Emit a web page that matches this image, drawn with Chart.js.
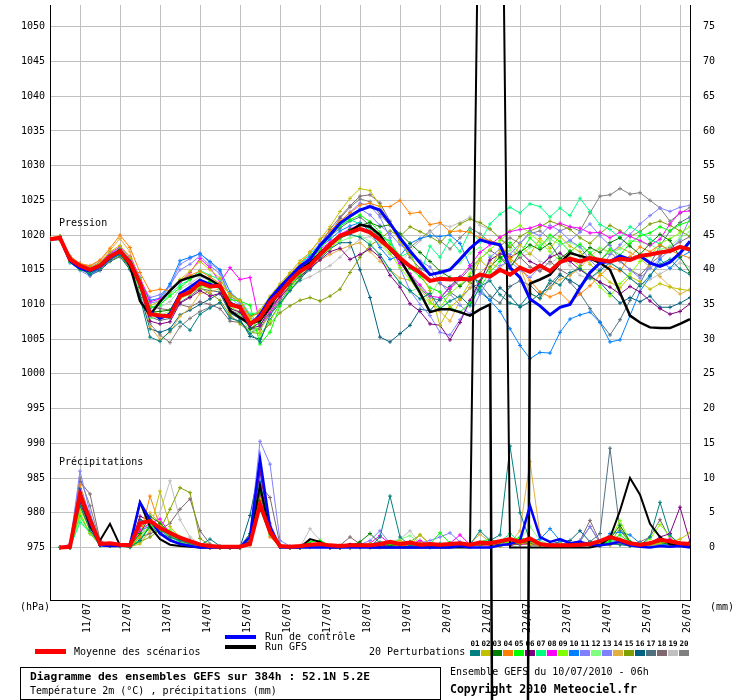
<!DOCTYPE html>
<html>
<head>
<meta charset="utf-8">
<title>Diagramme des ensembles GEFS</title>
<script src="https://cdn.jsdelivr.net/npm/chart.js@4.4.1/dist/chart.umd.min.js"></script>
<style>
  body { margin: 0; background: #fff; }
  canvas { display: block; }
</style>
</head>
<body>
<canvas id="chart" width="740" height="700"></canvas>
<script>
// echeances (heures depuis le 10/07/2010 06h)
const hours = [0,6,12,18,24,30,36,42,48,54,60,66,72,78,84,90,96,102,108,114,120,126,132,138,144,150,156,162,168,174,180,186,192,198,204,210,216,222,228,234,240,246,252,258,264,270,276,282,288,294,300,306,312,318,324,330,336,342,348,354,360,366,372,378,384];
const dayTicks = [18,42,66,90,114,138,162,186,210,234,258,282,306,330,354,378];
const dayLabels = ["11/07","12/07","13/07","14/07","15/07","16/07","17/07","18/07","19/07","20/07","21/07","22/07","23/07","24/07","25/07","26/07"];
const pressureTicks = [975,980,985,990,995,1000,1005,1010,1015,1020,1025,1030,1035,1040,1045,1050];
const rainTicks = [0,5,10,15,20,25,30,35,40,45,50,55,60,65,70,75];

// pression (hPa)
const meanPressure = [1019.4,1019.6,1016.5,1015.6,1015.0,1015.6,1016.9,1017.7,1016.0,1013.1,1008.6,1008.4,1008.3,1011.2,1011.8,1013.1,1012.6,1012.7,1010.0,1009.6,1007.2,1008.1,1010.3,1011.7,1013.4,1014.8,1015.6,1017.2,1018.6,1019.9,1020.4,1020.9,1020.4,1019.3,1018.1,1016.7,1015.5,1014.6,1013.4,1013.7,1013.6,1013.7,1013.6,1014.3,1014.0,1015.0,1014.3,1015.3,1014.7,1015.6,1014.8,1016.1,1016.6,1016.2,1016.7,1016.4,1016.2,1016.6,1016.4,1017.0,1017.2,1017.5,1017.7,1018.3,1017.9];
const controlPressure = [1019.4,1019.6,1016.3,1015.2,1014.8,1015.5,1016.8,1017.6,1016.2,1013.0,1009.0,1008.0,1008.6,1011.5,1012.5,1013.5,1012.9,1012.5,1010.2,1009.5,1007.0,1008.5,1010.8,1012.5,1014.0,1015.5,1016.5,1018.5,1020.0,1021.7,1022.7,1023.6,1024.1,1023.6,1021.7,1019.6,1017.7,1016.0,1014.3,1014.6,1015.0,1016.5,1018.1,1019.3,1018.9,1018.6,1015.3,1013.9,1010.8,1009.8,1008.5,1009.6,1010.0,1012.4,1014.6,1016.0,1016.2,1017.0,1016.5,1017.0,1016.0,1015.5,1016.1,1017.4,1019.1];
const gfsPressure = [1019.4,1019.6,1016.4,1015.3,1014.9,1015.6,1016.9,1017.8,1015.6,1010.5,1008.5,1010.4,1012.0,1013.4,1013.9,1014.3,1013.6,1012.7,1009.1,1008.1,1007.2,1007.7,1009.6,1012.2,1013.8,1015.0,1016.0,1017.4,1018.7,1019.8,1020.5,1021.5,1021.2,1020.0,1017.9,1016.5,1014.1,1011.7,1008.9,1009.3,1009.3,1008.9,1008.4,1009.3,1010.0,725,700,715,1013.0,1013.6,1014.3,1016.0,1017.4,1017.0,1016.6,1016.0,1015.0,1011.7,1008.4,1007.4,1006.7,1006.6,1006.6,1007.2,1007.9];

const p01 = [1019.2,1019.8,1016.8,1015.2,1014.3,1015.4,1016.6,1017.2,1015.3,1011.0,1005.3,1004.7,1006.2,1007.5,1006.3,1008.6,1009.5,1010.3,1008.0,1007.6,1005.8,1004.6,1008.5,1010.2,1012.0,1013.5,1015.6,1016.8,1018.3,1019.6,1020.1,1019.7,1018.6,1017.2,1015.0,1013.1,1012.0,1010.8,1011.6,1009.4,1010.5,1011.2,1009.8,1012.6,1013.4,1011.4,1010.2,1009.8,1011.6,1010.9,1013.5,1012.8,1014.6,1015.2,1013.8,1014.9,1016.0,1015.1,1013.8,1012.6,1014.2,1015.8,1016.5,1015.1,1014.3];
const p02 = [1019.4,1019.3,1016.2,1015.8,1015.3,1016.0,1017.6,1018.5,1016.8,1013.5,1009.8,1010.5,1011.8,1013.6,1014.8,1016.2,1015.0,1013.8,1011.2,1010.5,1008.0,1009.2,1011.2,1013.0,1014.6,1016.3,1017.5,1019.4,1021.2,1023.4,1025.3,1026.7,1026.4,1024.2,1021.5,1019.0,1017.2,1014.5,1012.0,1007.0,1009.6,1010.8,1013.2,1016.4,1015.1,1017.8,1016.2,1018.6,1017.2,1019.5,1018.1,1019.8,1018.4,1017.6,1015.8,1014.5,1013.2,1012.4,1014.0,1013.3,1012.2,1013.0,1012.5,1012.2,1012.0];
const p03 = [1019.5,1019.5,1016.6,1015.7,1015.2,1015.8,1017.0,1017.9,1016.3,1013.4,1008.9,1009.0,1009.2,1011.6,1012.2,1012.8,1013.0,1012.4,1010.3,1009.8,1006.5,1007.4,1009.8,1011.6,1013.0,1014.7,1015.8,1017.4,1018.7,1019.8,1020.8,1021.4,1021.8,1021.2,1021.5,1020.2,1018.8,1017.5,1016.2,1014.8,1013.9,1012.6,1014.0,1013.2,1015.4,1016.8,1015.2,1017.5,1018.6,1017.9,1018.8,1016.6,1017.7,1016.9,1018.2,1017.5,1018.9,1019.6,1018.4,1017.2,1018.8,1020.1,1019.2,1016.8,1014.6];
const p04 = [1019.6,1019.9,1017.0,1015.9,1015.6,1016.4,1018.1,1020.0,1018.2,1014.6,1011.9,1012.2,1012.0,1013.5,1014.2,1014.8,1014.0,1013.0,1011.5,1010.6,1008.2,1008.8,1010.9,1012.8,1014.4,1015.9,1017.6,1019.3,1020.6,1022.0,1023.2,1024.3,1024.6,1024.1,1024.1,1025.0,1023.1,1023.3,1021.5,1021.8,1020.5,1020.6,1020.4,1019.6,1019.2,1018.7,1016.7,1015.4,1013.4,1011.8,1011.1,1011.7,1010.3,1011.5,1012.7,1014.2,1015.5,1014.8,1016.9,1018.3,1017.6,1018.6,1017.8,1017.2,1016.7];
const p05 = [1019.3,1019.4,1016.1,1015.0,1014.6,1015.3,1016.6,1017.4,1015.5,1012.6,1009.4,1010.0,1011.2,1012.4,1013.6,1014.5,1013.3,1012.8,1010.7,1010.5,1009.9,1004.3,1006.0,1009.8,1012.5,1014.3,1016.0,1018.0,1019.8,1021.3,1022.2,1022.9,1021.9,1020.4,1018.7,1017.0,1015.2,1014.0,1012.4,1011.8,1009.6,1008.9,1010.2,1012.4,1014.7,1016.2,1018.9,1017.3,1019.6,1018.2,1020.0,1019.1,1017.6,1018.7,1017.4,1016.2,1018.0,1017.1,1018.8,1019.9,1020.3,1021.2,1020.6,1021.5,1022.0];
const p06 = [1019.4,1019.5,1016.4,1015.4,1014.6,1015.2,1016.5,1017.3,1015.6,1012.5,1007.6,1007.2,1007.5,1010.2,1011.0,1012.0,1011.2,1011.6,1009.4,1008.9,1006.6,1006.9,1009.5,1011.1,1012.6,1014.1,1015.2,1016.4,1017.6,1018.1,1016.5,1017.2,1018.0,1016.8,1014.2,1012.5,1010.1,1009.0,1007.2,1007.0,1004.9,1007.4,1010.6,1013.4,1016.4,1017.3,1016.8,1017.6,1016.2,1015.5,1016.8,1017.4,1016.2,1015.0,1014.1,1013.2,1012.5,1011.5,1012.6,1011.8,1010.5,1009.4,1008.6,1009.0,1010.1];
const p07 = [1019.3,1019.6,1016.7,1015.6,1015.3,1015.9,1017.1,1018.0,1016.5,1013.8,1009.6,1009.9,1011.5,1012.8,1013.6,1014.9,1014.2,1013.6,1011.4,1010.7,1008.6,1008.9,1010.9,1012.6,1014.4,1015.8,1017.3,1018.5,1020.0,1021.4,1022.2,1021.6,1020.9,1019.7,1019.2,1016.8,1017.6,1014.2,1018.4,1016.8,1019.3,1017.6,1020.7,1019.0,1021.6,1023.0,1024.0,1023.2,1024.5,1024.1,1022.6,1023.9,1022.8,1025.3,1023.4,1021.5,1020.8,1019.6,1021.2,1020.4,1019.4,1018.7,1017.6,1018.3,1017.9];
const p08 = [1019.5,1019.7,1016.8,1015.9,1015.3,1016.0,1017.4,1018.3,1016.9,1013.9,1010.4,1010.8,1011.8,1013.2,1014.6,1016.6,1015.3,1013.2,1015.3,1013.6,1013.9,1007.1,1008.8,1011.2,1013.3,1015.1,1016.6,1017.9,1019.0,1020.1,1020.9,1021.5,1021.0,1019.6,1018.0,1015.9,1014.4,1012.8,1011.2,1011.0,1012.4,1013.9,1015.6,1017.5,1018.6,1019.7,1020.5,1020.8,1021.0,1021.5,1021.0,1021.7,1021.2,1021.0,1020.3,1020.4,1019.6,1020.4,1019.8,1019.2,1018.5,1019.4,1021.6,1023.3,1023.5];
const p09 = [1019.3,1019.5,1016.3,1015.3,1014.9,1015.5,1016.8,1017.5,1015.8,1012.9,1009.1,1008.6,1008.5,1010.8,1011.5,1012.6,1012.3,1012.8,1009.7,1008.9,1007.8,1005.6,1007.6,1010.0,1012.2,1013.9,1015.5,1016.9,1018.0,1019.4,1020.4,1020.9,1020.2,1019.0,1017.4,1015.3,1013.6,1011.5,1010.2,1009.5,1011.6,1012.8,1014.5,1016.6,1017.9,1019.2,1020.6,1021.4,1020.2,1019.0,1017.6,1016.3,1016.8,1015.4,1014.0,1012.5,1011.2,1013.0,1014.4,1016.2,1017.0,1018.8,1019.5,1020.3,1021.2];
const p10 = [1019.4,1019.4,1016.0,1015.1,1014.4,1015.1,1016.4,1017.2,1015.9,1013.2,1010.6,1010.9,1013.0,1016.3,1016.8,1017.3,1016.2,1015.0,1011.8,1010.5,1008.4,1008.8,1010.5,1012.4,1014.0,1015.4,1017.0,1018.2,1019.4,1020.6,1021.3,1021.8,1020.5,1018.2,1016.5,1017.0,1018.8,1019.5,1019.9,1019.8,1020.0,1018.8,1015.6,1012.2,1010.6,1009.0,1006.5,1004.1,1002.2,1003.1,1003.0,1006.0,1007.9,1008.5,1008.9,1007.4,1004.6,1004.9,1008.4,1011.9,1014.0,1016.5,1015.2,1016.8,1017.6];
const p11 = [1019.2,1019.3,1016.1,1014.9,1014.1,1015.2,1016.6,1017.5,1016.1,1013.4,1011.0,1011.4,1012.6,1015.8,1016.6,1017.4,1016.0,1014.8,1011.0,1009.8,1007.5,1008.2,1010.4,1012.2,1014.1,1015.6,1017.3,1018.8,1020.3,1021.9,1023.3,1024.6,1024.2,1022.6,1019.6,1015.3,1012.0,1010.0,1008.4,1006.0,1005.6,1007.8,1010.4,1013.0,1016.8,1018.0,1017.2,1018.8,1020.5,1019.9,1021.4,1020.6,1019.2,1018.3,1016.4,1015.0,1017.2,1018.6,1020.1,1021.6,1022.8,1023.9,1023.4,1024.0,1024.3];
const p12 = [1019.5,1019.6,1016.5,1015.5,1014.8,1015.5,1016.7,1017.3,1015.4,1012.0,1008.0,1008.2,1009.2,1011.0,1012.2,1013.6,1013.0,1012.1,1009.6,1008.6,1006.0,1006.8,1009.4,1011.4,1013.0,1014.6,1016.1,1017.5,1018.4,1019.1,1019.6,1020.0,1019.0,1016.8,1015.0,1013.2,1011.8,1012.6,1011.0,1013.8,1015.2,1016.0,1017.4,1018.2,1017.0,1016.5,1017.8,1017.1,1018.2,1018.6,1019.4,1018.7,1019.0,1018.2,1017.5,1018.2,1017.4,1018.0,1019.2,1019.0,1018.6,1017.9,1018.4,1019.6,1020.5];
const p13 = [1019.4,1019.5,1016.4,1015.6,1015.3,1016.1,1017.3,1018.0,1016.4,1013.6,1010.2,1010.5,1012.8,1015.0,1015.8,1017.0,1015.6,1014.4,1011.2,1010.2,1008.0,1007.7,1009.9,1011.9,1013.4,1015.2,1016.9,1018.6,1019.8,1021.6,1022.9,1023.8,1022.9,1021.4,1020.2,1018.6,1017.6,1016.3,1015.4,1013.2,1011.5,1009.9,1008.6,1011.5,1014.0,1015.6,1016.2,1015.0,1013.9,1015.4,1017.0,1018.6,1019.2,1020.4,1021.6,1019.9,1018.5,1016.4,1015.0,1013.8,1015.2,1016.6,1017.8,1019.4,1022.4];
const p14 = [1019.5,1019.8,1016.9,1015.8,1015.5,1016.3,1017.8,1019.5,1017.6,1013.0,1006.8,1005.0,1006.0,1008.3,1009.5,1011.6,1011.8,1012.3,1009.0,1008.2,1007.0,1006.2,1009.0,1011.0,1012.8,1014.2,1015.6,1016.4,1017.2,1017.9,1018.5,1018.9,1017.6,1016.2,1015.0,1013.8,1013.5,1012.2,1010.5,1009.0,1007.6,1010.6,1012.4,1014.5,1016.0,1015.2,1016.6,1015.4,1011.6,1010.8,1012.4,1013.6,1014.2,1015.2,1016.9,1018.1,1017.6,1018.2,1017.5,1016.6,1015.4,1014.0,1012.6,1011.5,1012.2];
const p15 = [1019.3,1019.4,1016.2,1015.1,1014.5,1015.1,1016.3,1017.0,1015.2,1012.0,1008.8,1008.0,1008.8,1011.0,1011.6,1012.4,1011.6,1010.6,1008.5,1007.2,1006.0,1005.8,1007.2,1008.8,1009.8,1010.6,1011.0,1010.5,1011.2,1012.2,1014.6,1016.8,1018.5,1019.4,1020.6,1019.8,1021.2,1020.5,1019.8,1018.9,1020.4,1021.6,1022.3,1021.8,1020.9,1019.5,1018.2,1019.8,1020.6,1021.2,1022.0,1021.5,1020.8,1019.6,1018.8,1020.2,1021.4,1020.6,1019.8,1020.5,1021.6,1022.0,1021.4,1020.6,1019.8];
const p16 = [1019.3,1019.6,1016.6,1015.4,1014.2,1014.9,1016.2,1016.9,1015.0,1011.4,1006.5,1006.0,1006.5,1008.5,1009.2,1010.0,1010.8,1011.6,1008.8,1007.9,1005.4,1005.0,1007.8,1010.0,1012.0,1013.8,1015.0,1016.6,1018.0,1018.9,1018.9,1015.0,1011.0,1005.3,1004.6,1005.8,1007.0,1009.3,1009.1,1010.8,1012.6,1014.0,1013.2,1011.8,1010.6,1012.4,1011.2,1009.6,1010.4,1011.6,1012.4,1014.2,1013.5,1012.6,1014.0,1013.2,1011.6,1010.2,1011.0,1010.4,1011.2,1009.6,1009.6,1010.2,1011.0];
const p17 = [1019.4,1019.4,1016.3,1015.3,1014.7,1015.4,1016.7,1017.6,1016.1,1012.8,1008.2,1007.7,1008.0,1010.3,1011.2,1012.3,1012.0,1011.8,1009.2,1008.5,1006.6,1006.4,1009.2,1011.2,1013.4,1015.0,1016.4,1018.2,1019.8,1021.0,1022.0,1022.6,1021.4,1019.8,1018.2,1016.5,1014.4,1012.3,1011.0,1010.6,1011.8,1010.8,1012.4,1013.0,1011.2,1010.2,1012.6,1013.4,1012.8,1011.4,1013.0,1014.4,1013.2,1011.6,1009.4,1007.5,1005.6,1007.8,1010.6,1013.0,1015.8,1018.4,1020.6,1021.8,1022.6];
const p18 = [1019.5,1019.7,1016.6,1015.5,1015.1,1015.9,1017.2,1018.1,1016.6,1013.6,1009.8,1009.4,1009.2,1010.0,1009.6,1010.4,1010.0,1009.4,1007.6,1007.4,1006.4,1006.6,1008.6,1010.8,1012.8,1014.6,1016.6,1018.6,1020.8,1022.6,1024.2,1025.6,1025.8,1024.6,1022.0,1019.2,1016.8,1015.2,1014.4,1013.0,1012.2,1013.6,1015.2,1016.6,1017.8,1016.9,1015.6,1016.8,1015.4,1014.8,1016.2,1015.0,1014.2,1015.6,1017.2,1016.4,1017.6,1016.2,1015.0,1014.2,1015.8,1017.0,1018.2,1019.0,1019.8];
const p19 = [1019.4,1019.6,1016.5,1015.7,1015.4,1015.9,1017.0,1017.7,1016.0,1012.4,1009.0,1009.6,1010.4,1012.2,1013.0,1014.0,1013.4,1012.5,1010.6,1009.2,1007.8,1007.6,1009.6,1011.2,1012.6,1013.4,1014.0,1014.8,1015.6,1016.8,1018.2,1019.4,1019.8,1018.6,1017.2,1016.0,1017.6,1019.2,1020.4,1021.6,1021.2,1021.8,1022.6,1021.4,1020.8,1019.6,1018.4,1016.8,1017.4,1016.2,1015.8,1017.0,1015.6,1014.2,1013.6,1014.8,1016.2,1015.0,1013.8,1012.8,1013.6,1014.4,1015.2,1016.0,1015.4];
const p20 = [1019.3,1019.5,1016.4,1015.2,1014.6,1015.3,1016.6,1017.4,1015.6,1012.2,1007.2,1005.6,1004.5,1006.8,1008.0,1009.0,1009.6,1010.2,1008.2,1007.5,1006.0,1006.4,1008.6,1010.4,1012.6,1014.4,1016.4,1018.4,1020.2,1022.4,1024.0,1025.2,1024.8,1023.0,1021.4,1019.6,1018.2,1019.4,1020.6,1019.2,1018.0,1019.6,1021.0,1020.2,1019.0,1018.4,1019.6,1018.8,1020.2,1020.6,1019.4,1020.6,1021.2,1020.6,1023.2,1025.6,1025.8,1026.7,1025.9,1026.1,1025.0,1023.9,1022.0,1023.1,1024.0];

// precipitations (mm / 6h)
const meanRain = [null,0,0.1,7.6,4.0,0.5,0.6,0.4,0.3,3.5,3.8,2.8,2.1,1.4,0.9,0.4,0.2,0.1,0.1,0.1,0.5,6.2,2.3,0.2,0.1,0.2,0.4,0.5,0.3,0.2,0.3,0.3,0.3,0.5,0.8,0.5,0.7,0.4,0.5,0.4,0.5,0.6,0.4,0.7,0.6,0.9,1.2,0.8,1.3,0.5,0.3,0.3,0.3,0.4,0.5,0.9,1.5,1.1,0.6,0.4,0.6,1.1,0.9,0.6,0.5];
const controlRain = [null,0,0,8.0,3.5,0.3,0.2,0.2,0.5,6.5,4.0,2.0,1.0,0.5,0.2,0,0,0,0,0,1.5,12.8,3.0,0,0,0,0,0,0,0,0,0,0,0,0,0,0,0,0,0,0,0.2,0,0,0,0.3,0.5,1.0,6.0,1.5,0.8,1.2,0.6,0.8,0.4,0.3,0.5,0.8,0.3,0.1,0,0.2,0.1,0.2,0];
const gfsRain = [null,0,0,7.8,3.0,1.0,3.4,0.3,0.2,6.5,3.0,1.2,0.4,0.2,0.1,0,0,0,0,0,0.8,9.0,2.0,0.1,0,0,1.2,0.8,0,0,0.5,0.2,0,0,0,0,0,0,0,0,0,0,0,111,120,130,0,0,0,0,0,0,0,0,0,0.3,1.4,5.3,10.0,7.6,3.4,1.5,0.5,0.2,0.1];

const r01 = [null,0,0.2,6.0,2.5,0.4,0.3,0.2,0,1.0,3.0,2.0,1.5,1.0,0.5,0.3,1.2,0.2,0,0,2.0,9.0,3.0,0.2,0,0,0.3,0.2,0,0,0.3,0,0,1.5,7.4,1.5,0.3,0.2,0,0.2,0.3,0.2,0.4,2.4,1.0,1.8,14.6,5.0,1.0,0.5,0.3,0.2,0.5,0.4,0.3,0.2,0.6,0.4,0.2,0.3,1.5,6.5,1.8,0.4,0.2];
const r02 = [null,0,0,5.0,2.0,0.5,0.3,0.2,0.1,0.5,2.5,8.1,3.0,1.5,0.6,0.2,0,0,0,0,1.0,7.0,2.0,0,0,0,0.3,0.5,0,0,0,0.2,0.5,0.3,0.6,1.0,0.4,1.8,0.5,0.3,0.2,0.4,0.3,0.6,0.5,0.2,0.8,0.6,0.4,0.3,0.2,0.5,0.3,0.2,0.4,0.5,0.3,0.8,0.5,0.3,0.4,0.6,0.8,1.2,2.1];
const r03 = [null,0,0,7.0,3.0,0.4,0.3,0.3,0.2,2.0,4.5,3.5,2.0,1.2,0.6,0.3,0.2,0,0,0,0.5,8.0,2.5,0.3,0,0,0.4,0.6,0.2,0,0.2,0.8,2.0,0.6,0.3,0.4,0.8,0.3,0.2,0.4,0.6,0.3,0.2,0.5,0.4,0.3,0.6,0.5,1.0,0.4,0.3,0.2,0.3,0.5,0.4,0.6,1.2,3.2,0.8,0.4,0.5,0.7,0.4,0.3,0.2];
const r04 = [null,0,0.3,9.0,4.0,0.6,0.4,0.3,0.1,1.5,7.4,3.0,1.6,1.0,0.4,0.2,0,0,0,0,0.3,6.0,1.5,0.2,0,0,0,0.2,0,0,0,0,0,0,0.2,0.3,0.2,0.4,0.2,0.3,0.5,0.3,0.2,0.4,0.3,0.2,0.4,0.6,0.8,0.3,0.2,0.3,0.6,0.4,0.5,0.3,0.4,0.6,0.3,0.2,0.4,0.3,0.2,0.3,0.4];
const r05 = [null,0,0,4.6,2.0,0.4,0.3,0.2,0.2,1.0,3.2,2.5,1.8,1.0,0.5,0.2,0.1,0,0,0,0.6,8.5,2.0,0.3,0,0,0.8,1.0,0.3,0,0,0.3,0.5,0.6,0.4,0.3,0.6,0.4,0.5,2.1,0.6,0.4,0.3,0.8,1.2,0.6,0.9,1.5,0.8,0.4,0.3,0.4,0.2,0.3,0.5,0.4,0.9,1.8,0.7,0.4,0.5,0.8,0.6,0.4,0.3];
const r06 = [null,0,0,6.5,3.0,0.3,0.2,0.2,0.3,4.5,3.8,2.2,1.2,0.6,0.3,0.1,0,0,0,0,0.8,11.0,2.2,0.2,0,0,0.2,0.3,0,0,0.4,0.6,0.3,0.2,0.4,0.3,0.2,0.5,0.3,0.2,0.4,0.3,0.2,0.3,0.5,0.4,0.3,0.6,0.5,0.3,0.4,0.3,0.2,0.3,0.4,0.3,0.5,0.8,0.4,0.3,0.6,1.5,2.0,5.8,0.8];
const r07 = [null,0,0,3.6,2.2,0.3,0.2,0.2,0.1,1.2,3.0,2.6,1.5,0.8,0.4,0.2,0,0,0,0,0.4,5.5,1.8,0.2,0,0,0.3,0.6,0.2,0,0,0.2,0.3,0.4,0.3,0.5,0.3,0.2,0.4,0.6,0.3,0.2,0.4,0.3,0.6,0.8,2.0,0.8,0.6,0.4,0.3,0.5,0.4,0.3,0.6,0.4,0.8,1.2,0.5,0.3,0.2,0.6,0.8,0.5,0.3];
const r08 = [null,0,0,7.5,3.2,0.4,0.3,0.2,0.2,2.5,3.5,4.1,2.0,1.0,0.5,0.2,0,0,0,0,0.6,7.5,2.5,0.2,0,0,0.2,0.4,0,0,0,0.3,0.6,1.7,0.5,0.3,0.4,1.0,0.3,0.4,0.6,1.8,0.4,0.3,0.2,0.5,0.6,0.4,0.5,0.3,0.2,0.4,0.3,0.2,0.4,0.3,0.6,0.9,0.5,0.3,0.4,0.8,1.2,0.6,0.4];
const r09 = [null,0,0,5.5,2.6,0.3,0.3,0.2,0.2,1.8,3.0,3.2,2.4,1.4,0.6,0.3,0.1,0,0,0,0.5,6.8,2.0,0.2,0,0,0.3,0.4,0.2,0,0,0.2,0.4,0.3,0.2,0.5,0.3,0.8,0.4,0.3,0.2,0.3,0.5,0.4,0.3,0.6,0.8,1.4,0.6,0.4,0.3,0.2,0.4,0.3,0.5,0.4,1.0,3.9,0.8,0.5,1.2,3.3,1.6,0.5,0.3];
const r10 = [null,0,0,8.5,3.5,0.5,0.4,0.3,0.2,3.0,4.0,2.5,1.5,0.8,0.4,0.2,0,0,0,0,1.0,9.5,2.8,0.2,0,0,0.2,0.3,0,0,0,0.2,0.3,0.4,0.2,0.3,0.4,0.3,0.2,0.3,0.4,0.3,0.5,0.4,0.3,0.5,0.8,1.2,0.9,1.2,2.7,1.0,0.6,0.8,0.5,0.4,2.0,2.2,1.8,0.6,0.4,0.5,0.3,0.4,0.3];
const r11 = [null,0,0.5,11.0,5.0,0.6,0.4,0.3,0.2,2.0,3.5,3.0,2.0,1.2,0.6,0.3,0,0,0,0.2,2.0,15.3,12.0,1.0,0.2,0,0.3,0.4,0.2,0,0.2,0.4,1.0,2.4,0.6,0.3,0.4,0.3,0.5,0.4,0.3,0.6,0.5,0.3,0.4,0.2,0.5,0.6,0.4,0.3,0.5,0.4,0.3,1.0,3.0,0.8,0.4,0.6,0.3,0.4,0.5,0.6,0.4,0.3,0.2];
const r12 = [null,0,0,4.0,2.0,0.3,0.2,0.2,0.1,1.5,2.8,2.2,2.6,1.5,0.8,0.3,0.1,0,0,0,0.4,6.5,2.0,0.2,0,0,0.2,0.3,0,0,0,0.2,0.3,0.4,0.6,1.2,1.7,0.6,0.4,0.3,0.5,0.4,0.3,0.6,0.5,0.4,0.8,1.2,3.0,1.0,0.4,0.3,0.2,0.4,0.3,0.5,0.6,0.8,0.4,0.3,0.4,0.5,0.3,0.2,0.3];
const r13 = [null,0,0.3,9.0,4.5,0.5,0.4,0.3,0.2,3.5,4.2,3.0,1.8,1.0,0.5,0.2,0,0,0,0,1.2,10.5,3.5,0.3,0,0,0.2,0.4,0,0,0.2,0.3,0.5,0.8,0.4,0.3,0.2,0.6,1.0,1.5,2.1,0.8,0.4,0.3,0.5,0.4,0.3,0.6,0.4,0.3,0.5,0.6,0.4,0.3,0.5,0.4,0.7,1.0,0.6,0.4,0.3,0.5,0.4,0.3,0.5];
const r14 = [null,0,0.2,8.0,3.8,0.5,0.3,0.2,0.3,2.2,5.0,3.5,2.2,1.4,0.7,0.3,0,0,0,0,0.5,7.2,2.4,0.2,0,0,0.3,0.5,0.2,0,0,0.3,0.4,0.3,0.5,0.4,0.3,0.6,0.4,0.3,0.5,0.4,0.6,1.9,0.8,0.5,0.6,2.4,12.4,1.8,0.6,0.4,0.3,0.5,0.4,0.3,0.6,1.2,0.5,0.4,0.3,0.6,0.4,0.5,0.3];
const r15 = [null,0,0,6.0,2.8,0.4,0.3,0.2,0.1,0.8,1.5,2.5,5.5,8.6,7.9,1.3,0.3,0,0,0,0.6,8.0,2.2,0.2,0,0,0.4,0.5,0.2,0,0,0.3,0.4,0.3,0.5,0.6,0.8,1.8,0.5,0.4,0.3,0.5,0.4,0.3,0.6,0.4,0.3,0.5,0.8,0.4,0.3,0.2,0.4,0.3,0.5,0.4,0.6,2.8,0.6,0.4,0.5,0.8,0.6,0.4,0.3];
const r16 = [null,0,0,7.0,3.5,0.5,0.3,0.2,0.2,4.0,3.5,2.4,1.6,0.9,1.0,0.4,0.2,0,0,0,4.6,12.0,2.6,0.3,0,0,0.3,0.4,0,0,0,0.2,0.3,0.4,0.3,0.5,0.4,0.3,0.2,0.4,0.3,0.6,0.5,0.4,0.3,0.6,0.8,0.5,0.4,0.3,0.5,0.8,1.0,2.4,0.8,0.4,0.6,0.5,0.3,0.4,0.6,0.5,0.4,0.3,0.2];
const r17 = [null,0,0,6.5,3.0,0.4,0.3,0.2,0.2,2.5,3.0,2.5,1.8,1.0,0.6,0.3,0.1,0,0,0,0.8,9.0,2.5,0.2,0,0,0.2,0.3,0,0,0,0.2,0.4,0.3,0.5,0.4,0.3,0.4,0.2,0.3,0.5,0.4,0.3,0.5,0.4,0.3,0.5,0.6,0.4,0.5,0.3,0.4,0.6,0.5,0.8,2.0,14.3,2.4,0.8,0.5,0.4,0.6,0.5,0.4,0.3];
const r18 = [null,0,0,9.5,7.7,1.0,0.4,0.3,0.2,1.5,2.0,2.5,3.5,5.5,7.0,2.4,0.5,0,0,0,1.5,9.0,7.2,0.4,0,0,0.3,0.5,0.2,0.3,1.5,0.5,0.3,0.4,0.3,0.5,0.4,0.3,0.4,0.3,0.5,0.4,0.3,0.4,0.5,0.3,0.4,0.6,0.5,0.4,0.3,0.5,0.6,1.0,3.9,0.8,0.5,0.6,0.4,0.8,1.5,4.0,1.2,0.5,0.3];
const r19 = [null,0,0,6.0,3.0,0.4,0.3,0.2,0.2,1.0,2.0,5.0,9.6,4.0,1.5,0.5,0.2,0,0,0,0.6,7.5,3.0,0.3,0,0,2.7,1.0,0.2,0,0,0.3,0.4,0.6,0.8,1.2,2.4,0.6,0.4,0.3,0.5,0.4,0.3,0.5,0.4,0.6,0.5,0.8,0.6,0.4,0.3,0.5,0.4,0.3,0.6,0.4,0.5,0.8,0.4,0.3,0.4,0.6,0.5,0.3,0.4];
const r20 = [null,0,0.4,10.0,6.0,0.8,0.4,0.3,0.2,1.8,3.0,2.6,1.8,1.2,0.6,0.3,0,0,0,0,1.8,11.0,3.2,0.3,0,0,0.3,0.4,0,0,0,0.2,0.3,0.5,0.4,0.3,0.5,0.4,0.3,0.4,0.3,0.5,0.4,0.3,0.5,0.4,0.6,0.8,0.5,0.4,0.3,0.5,0.4,0.8,3.0,0.6,0.5,0.4,0.6,0.4,0.5,0.8,0.6,0.4,0.3];

const memberPressure = [p01,p02,p03,p04,p05,p06,p07,p08,p09,p10,p11,p12,p13,p14,p15,p16,p17,p18,p19,p20];
const memberRain = [r01,r02,r03,r04,r05,r06,r07,r08,r09,r10,r11,r12,r13,r14,r15,r16,r17,r18,r19,r20];
const memberColors = ["#008080","#c0c000","#008000","#ff8000","#00ff00","#800080","#00ff80","#ff00ff","#80ff00","#0080ff","#8080ff","#80ff80","#8080ff","#e0b040","#80a000","#006080","#507080","#806870","#c0c0c0","#808080"];

const FONT = "'DejaVu Sans Mono', monospace";

function points(values) {
  return hours.map((h, i) => ({ x: h, y: values[i] }));
}

function line(values, color, width, axis, order, marks) {
  return {
    data: points(values),
    yAxisID: axis,
    borderColor: color,
    backgroundColor: color,
    borderWidth: width,
    pointStyle: "cross",
    pointRadius: marks ? 2 : 0,
    pointBorderWidth: 1,
    pointBorderColor: color,
    fill: false,
    tension: 0,
    order: order
  };
}

const datasets = [];
datasets.push(line(meanPressure, "#ff0000", 4, "y", 0, false));
datasets.push(line(controlPressure, "#0000ff", 3, "y", 1, false));
const gfsLine = line(gfsPressure, "#000000", 2.5, "y", 2, false);
gfsLine.clip = false; // la courbe GFS sort du cadre comme sur l'original
datasets.push(gfsLine);
datasets.push(line(meanRain, "#ff0000", 4, "y2", 0, false));
datasets.push(line(controlRain, "#0000ff", 2.5, "y2", 1, false));
datasets.push(line(gfsRain, "#000000", 2, "y2", 2, false));
memberPressure.forEach((p, k) => {
  datasets.push(line(p, memberColors[k], 1, "y", 3, true));
});
memberRain.forEach((r, k) => {
  datasets.push(line(r, memberColors[k], 1, "y2", 3, true));
});

// textes, legende et cartouche
const decor = {
  id: "decor",
  beforeDatasetsDraw(chart) {
    const ctx = chart.ctx;
    ctx.save();
    ctx.textBaseline = "middle";
    ctx.textAlign = "left";
    ctx.fillStyle = "#000";
    ctx.font = "10px " + FONT;
    ctx.fillText("Pression", 59, 223);
    ctx.fillText("Précipitations", 59, 462);
    ctx.fillText("(hPa)", 20, 607);
    ctx.fillText("(mm)", 710, 607);

    ctx.fillStyle = "#ff0000";
    ctx.fillRect(35, 649, 31, 5);
    ctx.fillStyle = "#0000ff";
    ctx.fillRect(225, 635, 31, 4);
    ctx.fillStyle = "#000";
    ctx.fillRect(225, 645, 31, 4);
    ctx.fillText("Moyenne des scénarios", 74, 652);
    ctx.fillText("Run de contrôle", 265, 637);
    ctx.fillText("Run GFS", 265, 647);
    ctx.fillText("20 Perturbations", 369, 652);

    ctx.font = "bold 7.5px " + FONT;
    ctx.textAlign = "center";
    memberColors.forEach((c, k) => {
      const x = 470 + k * 11;
      ctx.fillStyle = "#000";
      ctx.fillText(String(k + 1).padStart(2, "0"), x + 5, 644);
      ctx.fillStyle = c;
      ctx.fillRect(x, 650, 10, 6);
    });

    ctx.textAlign = "left";
    ctx.fillStyle = "#000";
    ctx.strokeStyle = "#000";
    ctx.lineWidth = 1;
    ctx.strokeRect(20.5, 667.5, 420, 32);
    ctx.font = "bold 11.3px " + FONT;
    ctx.fillText("Diagramme des ensembles GEFS sur 384h : 52.1N 5.2E", 30, 677);
    ctx.font = "10px " + FONT;
    ctx.fillText("Température 2m (°C) , précipitations (mm)", 30, 691);
    ctx.fillText("Ensemble GEFS du 10/07/2010 - 06h", 450, 672);
    ctx.font = "bold 11.5px " + FONT;
    ctx.fillText("Copyright 2010 Meteociel.fr", 450, 690);
    ctx.restore();
  }
};

function noPadding(scale) {
  scale.paddingTop = 0;
  scale.paddingBottom = 0;
  scale.paddingLeft = 0;
  scale.paddingRight = 0;
}

new Chart(document.getElementById("chart"), {
  type: "line",
  data: { datasets: datasets },
  options: {
    responsive: false,
    animation: false,
    events: [],
    layout: { padding: 0 },
    plugins: { legend: { display: false }, tooltip: { enabled: false } },
    scales: {
      x: {
        type: "linear",
        min: 0,
        max: 384,
        afterBuildTicks: s => { s.ticks = dayTicks.map(v => ({ value: v })); },
        afterFit: s => { s.height = 100; noPadding(s); },
        grid: { color: "#c0c0c0", drawTicks: false },
        border: { color: "#000" },
        ticks: {
          autoSkip: false,
          minRotation: 90,
          maxRotation: 90,
          labelOffset: 7,
          padding: 3,
          color: "#000",
          font: { family: FONT, size: 10 },
          callback: v => dayLabels[dayTicks.indexOf(v)]
        }
      },
      y: {
        position: "left",
        min: 967.4286,
        max: 1053.1429,
        afterBuildTicks: s => { s.ticks = pressureTicks.map(v => ({ value: v })); },
        afterFit: s => { s.width = 50; noPadding(s); },
        grid: { color: "#c0c0c0", drawTicks: false },
        border: { color: "#000" },
        ticks: {
          padding: 5,
          color: "#000",
          font: { family: FONT, size: 10 },
          callback: v => String(v)
        }
      },
      y2: {
        position: "right",
        min: -7.5714,
        max: 78.1429,
        afterBuildTicks: s => { s.ticks = rainTicks.map(v => ({ value: v })); },
        afterFit: s => { s.width = 50; noPadding(s); },
        grid: { drawOnChartArea: false, drawTicks: false },
        border: { color: "#000" },
        ticks: {
          padding: 13,
          color: "#000",
          font: { family: FONT, size: 10 },
          callback: v => (v < 10 ? " " : "") + v
        }
      }
    }
  },
  plugins: [decor]
});
</script>
</body>
</html>
